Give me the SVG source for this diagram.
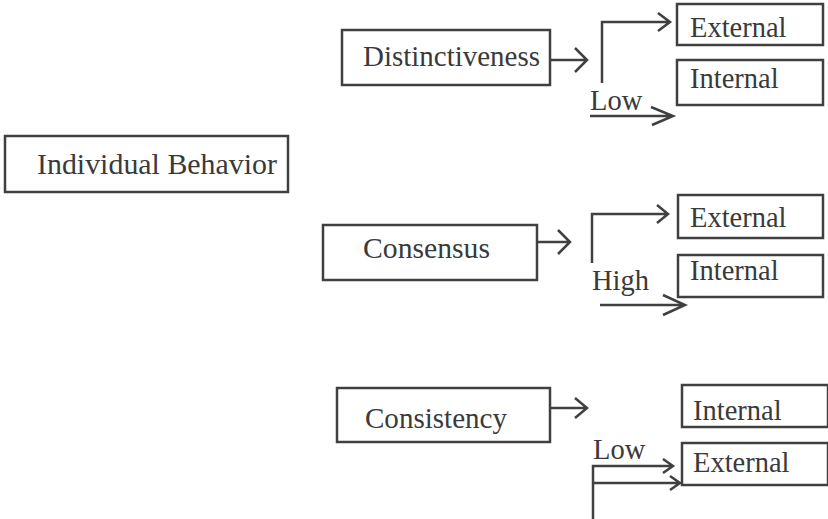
<svg xmlns="http://www.w3.org/2000/svg" width="828" height="519" viewBox="0 0 828 519">
<style>
.box{fill:none;stroke:#404040;stroke-width:2.5}
.ln{fill:none;stroke:#404040;stroke-width:2.5;stroke-linejoin:miter}
text{font-family:"Liberation Serif","Times New Roman",serif;font-size:28.5px;fill:#3a3a3a}
.big{font-size:29.5px}
</style>
<rect width="828" height="519" fill="#ffffff"/>
<g id="individual">
<rect class="box" x="5" y="136" width="283" height="56"/>
<text class="big" x="37" y="174" textLength="240" lengthAdjust="spacingAndGlyphs">Individual Behavior</text>
</g>
<g id="distinctiveness">
<rect class="box" x="342" y="30" width="208" height="55"/>
<text class="big" x="363" y="66" textLength="177" lengthAdjust="spacingAndGlyphs">Distinctiveness</text>
</g>
<g id="ext1"><rect class="box" x="677" y="4" width="146" height="41"/><text x="690" y="37">External</text></g>
<g id="int1"><rect class="box" x="677" y="60" width="146" height="45"/><text x="690" y="88">Internal</text></g>
<g id="consensus">
<rect class="box" x="323" y="225" width="214" height="55"/>
<text class="big" x="363" y="258" textLength="127" lengthAdjust="spacingAndGlyphs">Consensus</text>
</g>
<g id="ext2"><rect class="box" x="678" y="195" width="145" height="43"/><text x="690" y="227">External</text></g>
<g id="int2"><rect class="box" x="678" y="255" width="145" height="42"/><text x="690" y="280">Internal</text></g>
<g id="consistency">
<rect class="box" x="337" y="388" width="213" height="54"/>
<text class="big" x="365" y="428" textLength="142" lengthAdjust="spacingAndGlyphs">Consistency</text>
</g>
<g id="int3"><rect class="box" x="682" y="385" width="146" height="42"/><text x="693" y="420">Internal</text></g>
<g id="ext3"><rect class="box" x="682" y="443" width="146" height="42"/><text x="693" y="472">External</text></g>
<g id="connectors">
<path class="ln" d="M550 60H587M575 48L587 60L575 72"/>
<path class="ln" d="M602 83V22H670M658 13L670 22L658 31"/>
<path class="ln" d="M590 116H673M651 107L673 116L652 125"/>
<text x="590" y="110">Low</text>
<path class="ln" d="M537 242H570M558 230L570 242L558 254"/>
<path class="ln" d="M592 263V214H668M657 205L668 214L657 223"/>
<path class="ln" d="M600 305H685M663 295L685 305L663 315"/>
<text x="592" y="290">High</text>
<path class="ln" d="M550 408H587M575 398L587 408L575 418"/>
<path class="ln" d="M593 519V466H673M663 459L673 466L663 473"/>
<path class="ln" d="M593 483H680M670 476L680 483L670 490"/>
<text x="593" y="459">Low</text>
</g>
</svg>
